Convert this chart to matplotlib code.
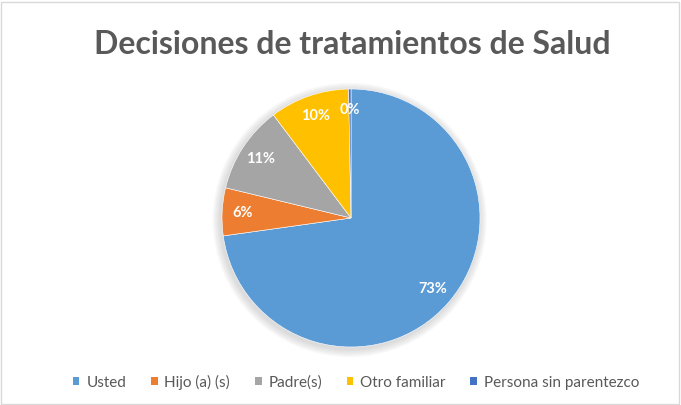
import matplotlib
matplotlib.use("Agg")
import matplotlib.pyplot as plt
from matplotlib.patches import Patch, Rectangle, Circle

categories = ["Usted", "Hijo (a) (s)", "Padre(s)", "Otro familiar", "Persona sin parentezco"]
values = [73, 6, 11, 10, 0.3]
colors = ["#5B9BD5", "#ED7D31", "#A5A5A5", "#FFC000", "#4472C4"]
title = "Decisiones de tratamientos de Salud"

W, H = 681, 405
fig = plt.figure(figsize=(W / 100, H / 100), dpi=100)
fig.patch.set_facecolor("white")

cx, cy, r = 351, 218, 129
ax = fig.add_axes([(cx - r) / W, (H - cy - r) / H, 2 * r / W, 2 * r / H])

# soft shadow behind the pie
for k in range(8):
    rr = 1.0 + 0.008 * (k + 1)
    ax.add_patch(Circle((-0.01, -0.015), rr, facecolor="#808080", edgecolor="none",
                        alpha=0.035, zorder=0, clip_on=False))

wedges, texts, autotexts = ax.pie(
    values, colors=colors, startangle=90, counterclock=False,
    autopct="%1.0f%%", pctdistance=0.84,
    wedgeprops=dict(edgecolor="white", linewidth=0.4, zorder=2),
    textprops=dict(color="white", fontsize=10.5, fontweight="bold", family="Lato"),
)
for t in autotexts:
    t.set_zorder(3)
ax.set_xlim(-1, 1)
ax.set_ylim(-1, 1)

fig.text(352 / W, 1 - 45 / H, title, ha="center", va="center",
         fontsize=23, color="#595959", family="Lato", fontweight="bold")

handles = [Patch(facecolor=c, edgecolor="none") for c in colors]
leg = fig.legend(handles, categories, loc="center", bbox_to_anchor=(356 / W, 1 - 382 / H),
                 ncol=5, frameon=False, handlelength=0.45, handleheight=0.45,
                 handletextpad=0.45, columnspacing=1.6, labelcolor="#595959",
                 prop=dict(family="Lato", size=11))

fig.patches.append(Rectangle((1 / W, 1 / H), (W - 3) / W, (H - 3) / H, transform=fig.transFigure,
                             fill=False, edgecolor="#D9D9D9", linewidth=1))

fig.savefig("out.png", dpi=100, facecolor="white")
